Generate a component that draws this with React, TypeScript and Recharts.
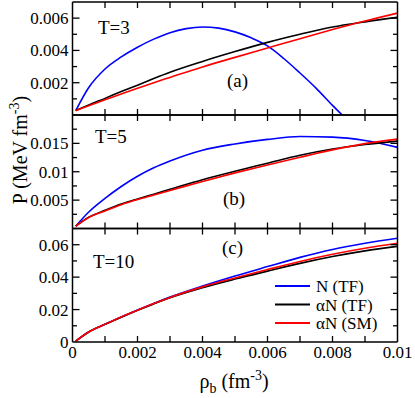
import React from 'react';
import { LineChart, Line, XAxis, YAxis } from 'recharts';

// Pressure vs baryon density, three temperatures, stacked panels

const FONT = '"Liberation Serif", "Times New Roman", Times, serif';
const W = 415;
const H = 398;

// baryon density grid (fm^-3)
const rho = [0.0001, 0.0005, 0.001, 0.0015, 0.002, 0.0025, 0.003, 0.004, 0.005, 0.006, 0.007, 0.008, 0.009, 0.01];
// N (TF) at T=3 drops to zero before 0.01, so it gets its own grid
const rhoNT3 = [0.0001, 0.0005, 0.001, 0.0015, 0.002, 0.0025, 0.003, 0.0035, 0.004, 0.0045, 0.005, 0.0055, 0.006, 0.0065, 0.007, 0.0075, 0.008, 0.0083];

// T=3
const nTF_T3 = [0.00027, 0.0017, 0.00285, 0.0036, 0.0042, 0.0047, 0.0051, 0.00535, 0.00545, 0.00538, 0.00515, 0.00478, 0.00428, 0.0035, 0.0026, 0.00165, 0.0006, 0];
const aTF_T3 = [0.00027, 0.00062, 0.00103, 0.00145, 0.00185, 0.00226, 0.00265, 0.00332, 0.00393, 0.0045, 0.005, 0.00545, 0.00577, 0.00605];
const aSM_T3 = [0.00027, 0.00058, 0.00095, 0.0013, 0.00165, 0.002, 0.00233, 0.00298, 0.00357, 0.00415, 0.00473, 0.00529, 0.00582, 0.00631];

// T=5
const nTF_T5 = [0.0004, 0.0029, 0.0053, 0.0074, 0.0092, 0.0107, 0.0119, 0.0138, 0.0149, 0.0157, 0.0162, 0.0161, 0.0155, 0.0143];
const aTF_T5 = [0.0004, 0.002, 0.0032, 0.0043, 0.0052, 0.00605, 0.0069, 0.0086, 0.0101, 0.0115, 0.0129, 0.014, 0.0148, 0.0154];
const aSM_T5 = [0.0004, 0.00195, 0.0031, 0.0042, 0.0051, 0.0059, 0.0067, 0.0083, 0.0098, 0.0112, 0.01255, 0.01385, 0.01495, 0.01575];

// T=10
const nTF_T10 = [0.0006, 0.0062, 0.0109, 0.0154, 0.0197, 0.0238, 0.0277, 0.0345, 0.0407, 0.0465, 0.0522, 0.0571, 0.0609, 0.064];
const aTF_T10 = [0.0006, 0.0062, 0.0109, 0.0153, 0.0195, 0.0235, 0.0273, 0.0335, 0.0388, 0.0437, 0.0485, 0.0527, 0.0562, 0.059];
const aSM_T10 = [0.0006, 0.0062, 0.0109, 0.0154, 0.0196, 0.0237, 0.0275, 0.034, 0.0395, 0.0447, 0.0497, 0.0541, 0.0578, 0.0609];

// ticks
const xTicks = [0, 0.001, 0.002, 0.003, 0.004, 0.005, 0.006, 0.007, 0.008, 0.009, 0.01];
const xLabels = [0, 0.002, 0.004, 0.006, 0.008, 0.01];
const yTicksA = [0, 0.001, 0.002, 0.003, 0.004, 0.005, 0.006, 0.007];
const yLabelsA = [0.002, 0.004, 0.006];
const yTicksB = [0, 0.0025, 0.005, 0.0075, 0.01, 0.0125, 0.015, 0.0175, 0.02];
const yLabelsB = [0.005, 0.01, 0.015];
const yTicksC = [0, 0.01, 0.02, 0.03, 0.04, 0.05, 0.06, 0.07];
const yLabelsC = [0, 0.02, 0.04, 0.06];

const SERIES = [
  { key: 'N (TF)', color: '#0000ff' },
  { key: '\u03b1N (TF)', color: '#000000' },
  { key: '\u03b1N (SM)', color: '#ff0000' },
];

const toPoints = (xs: number[], ys: number[]) => xs.map((x, i) => ({ x, y: ys[i] }));

const has = (list: number[], v: number) => list.some((t) => Math.abs(t - v) < 1e-9);

interface PanelDef {
  top: number;
  bottom: number;
  yMax: number;
  yTicks: number[];
  yLabels: number[];
  showX: boolean;
  lines: { x: number; y: number }[][];
}

const PANELS: PanelDef[] = [
  {
    top: 2,
    bottom: 115,
    yMax: 0.007,
    yTicks: yTicksA,
    yLabels: yLabelsA,
    showX: false,
    lines: [toPoints(rhoNT3, nTF_T3), toPoints(rho, aTF_T3), toPoints(rho, aSM_T3)],
  },
  {
    top: 115,
    bottom: 228.5,
    yMax: 0.02,
    yTicks: yTicksB,
    yLabels: yLabelsB,
    showX: false,
    lines: [toPoints(rho, nTF_T5), toPoints(rho, aTF_T5), toPoints(rho, aSM_T5)],
  },
  {
    top: 228.5,
    bottom: 342,
    yMax: 0.07,
    yTicks: yTicksC,
    yLabels: yLabelsC,
    showX: true,
    lines: [toPoints(rho, nTF_T10), toPoints(rho, aTF_T10), toPoints(rho, aSM_T10)],
  },
];

const PLOT_LEFT = 72.5;
const PLOT_RIGHT = 397.5;
const AX = 1; // thin axis band so recharts still draws the axis

function Panel({ def }: { def: PanelDef }) {
  const edgeX = (v: number) => v <= 0 || v >= 0.01;
  const edgeY = (v: number) => v <= 0 || v >= def.yMax;
  const tickStroke = { stroke: '#000', strokeWidth: 1.3 };

  const bottomTick = (p: any) => {
    const v = p.payload.value;
    return (
      <g>
        {!edgeX(v) && <line x1={p.x} x2={p.x} y1={p.y} y2={p.y - 6} {...tickStroke} />}
        {def.showX && has(xLabels, v) && (
          <text x={p.x} y={p.y + 16} textAnchor="middle" fontSize={17} fontFamily={FONT} fill="#000">
            {String(v)}
          </text>
        )}
      </g>
    );
  };

  const topTick = (p: any) => {
    const v = p.payload.value;
    if (edgeX(v)) return <g />;
    return <line x1={p.x} x2={p.x} y1={p.y} y2={p.y + 6} {...tickStroke} />;
  };

  const leftTick = (p: any) => {
    const v = p.payload.value;
    const major = has(def.yLabels, v);
    return (
      <g>
        {!edgeY(v) && <line x1={p.x} x2={p.x + (major ? 7 : 4.5)} y1={p.y} y2={p.y} {...tickStroke} />}
        {major && (
          <text x={p.x - 4} y={p.y + 6} textAnchor="end" fontSize={17} fontFamily={FONT} fill="#000">
            {String(v)}
          </text>
        )}
      </g>
    );
  };

  const rightTick = (p: any) => {
    const v = p.payload.value;
    if (edgeY(v)) return <g />;
    const major = has(def.yLabels, v);
    return <line x1={p.x} x2={p.x - (major ? 7 : 4.5)} y1={p.y} y2={p.y} {...tickStroke} />;
  };

  const axisLine = { stroke: '#000', strokeWidth: 1.5 };

  return (
    <div style={{ position: 'absolute', left: 0, top: 0 }}>
      <LineChart
        width={W}
        height={H}
        margin={{ top: def.top - AX, bottom: H - def.bottom - AX, left: 0, right: W - PLOT_RIGHT - AX }}
      >
        <XAxis
          xAxisId="b"
          dataKey="x"
          type="number"
          orientation="bottom"
          domain={[0, 0.01]}
          ticks={xTicks}
          interval={0}
          height={AX}
          tickSize={0}
          tickMargin={0}
          stroke="#000"
          axisLine={axisLine}
          tick={bottomTick}
          allowDataOverflow
        />
        <XAxis
          xAxisId="t"
          dataKey="x"
          type="number"
          orientation="top"
          domain={[0, 0.01]}
          ticks={xTicks}
          interval={0}
          height={AX}
          tickSize={0}
          tickMargin={0}
          stroke="#000"
          axisLine={axisLine}
          tick={topTick}
          allowDataOverflow
        />
        <YAxis
          yAxisId="l"
          type="number"
          orientation="left"
          domain={[0, def.yMax]}
          ticks={def.yTicks}
          interval={0}
          width={PLOT_LEFT}
          tickSize={0}
          tickMargin={0}
          stroke="#000"
          axisLine={axisLine}
          tick={leftTick}
          allowDataOverflow
        />
        <YAxis
          yAxisId="r"
          type="number"
          orientation="right"
          domain={[0, def.yMax]}
          ticks={def.yTicks}
          interval={0}
          width={AX}
          tickSize={0}
          tickMargin={0}
          stroke="#000"
          axisLine={axisLine}
          tick={rightTick}
          allowDataOverflow
        />
        {def.lines.map((pts, i) => (
          <Line
            key={SERIES[i].key}
            xAxisId="b"
            yAxisId="l"
            data={pts}
            dataKey="y"
            type="monotone"
            stroke={SERIES[i].color}
            strokeWidth={1.6}
            dot={false}
            activeDot={false}
            isAnimationActive={false}
          />
        ))}
      </LineChart>
    </div>
  );
}

export default function App() {
  return (
    <div style={{ position: 'fixed', left: 0, top: 0, width: W, height: H, background: '#fff' }}>
      {PANELS.map((p, i) => (
        <Panel key={i} def={p} />
      ))}
      <svg
        width={W}
        height={H}
        style={{ position: 'absolute', left: 0, top: 0, pointerEvents: 'none' }}
        fontFamily={FONT}
      >
        <text x={98} y={34} fontSize={19}>T=3</text>
        <text x={227} y={87} fontSize={19}>(a)</text>
        <text x={95} y={143} fontSize={19}>T=5</text>
        <text x={223} y={205} fontSize={19}>(b)</text>
        <text x={93} y={268} fontSize={19}>T=10</text>
        <text x={222} y={254} fontSize={19}>(c)</text>

        {SERIES.map((s, i) => (
          <g key={s.key}>
            <line x1={275} x2={310} y1={286 + i * 18.5} y2={286 + i * 18.5} stroke={s.color} strokeWidth={1.8} />
            <text x={316} y={292 + i * 18.5} fontSize={17}>{s.key}</text>
          </g>
        ))}

        <text transform="translate(27,150) rotate(-90)" textAnchor="middle" fontSize={20}>
          P (MeV fm<tspan dy={-8} fontSize={14}>-3</tspan>
          <tspan dy={8}>)</tspan>
        </text>
        <text x={234} y={388} textAnchor="middle" fontSize={20}>
          {'\u03c1'}
          <tspan dy={5} fontSize={14}>b</tspan>
          <tspan dy={-5}> (fm</tspan>
          <tspan dy={-8} fontSize={14}>-3</tspan>
          <tspan dy={8}>)</tspan>
        </text>
      </svg>
    </div>
  );
}
